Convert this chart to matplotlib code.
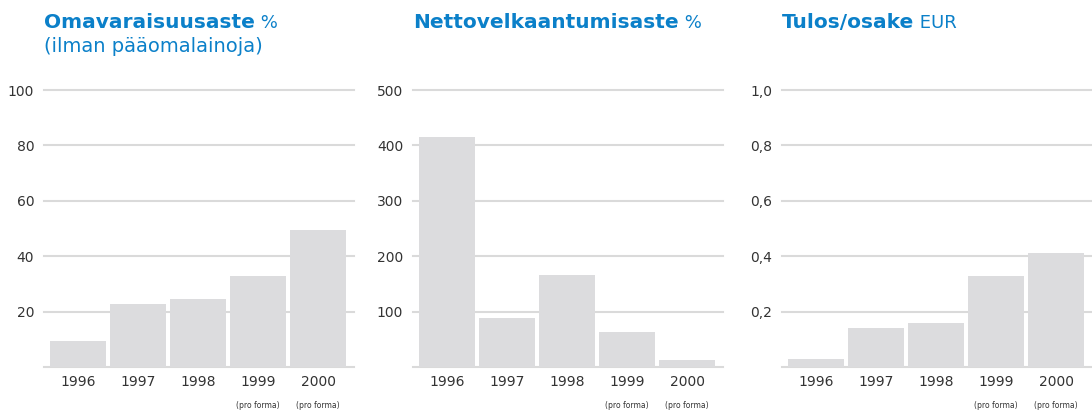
import matplotlib
matplotlib.use("Agg")
import matplotlib.pyplot as plt
import matplotlib.transforms as mtransforms
import numpy as np

years = ["1996", "1997", "1998", "1999", "2000"]
notes = ["", "", "", "(pro forma)", "(pro forma)"]

equity_ratio = [9.3, 22.8, 24.6, 33.0, 49.3]
gearing = [415, 89, 166, 63, 12]
eps = [0.029, 0.142, 0.159, 0.329, 0.41]

titles = ["Omavaraisuusaste", "Nettovelkaantumisaste", "Tulos/osake"]
units = ["%", "%", "EUR"]
subtitles = ["(ilman pääomalainoja)", "", ""]

ticks1 = [20, 40, 60, 80, 100]
ticks2 = [100, 200, 300, 400, 500]
ticks3 = [0.2, 0.4, 0.6, 0.8, 1.0]
tick_labels3 = ["0,2", "0,4", "0,6", "0,8", "1,0"]

BLUE = "#0b80c9"
BAR = "#dcdcde"
GRID = "#dadada"
TEXT = "#333333"

plt.rcParams['font.family'] = ['DejaVu Sans']

W, H = 1092, 412
fig = plt.figure(figsize=(W / 100, H / 100), dpi=100)

panels = [
    (equity_ratio, ticks1, [str(t) for t in ticks1], 100),
    (gearing, ticks2, [str(t) for t in ticks2], 500),
    (eps, ticks3, tick_labels3, 1.0),
]

for i, (vals, ticks, tlabels, ymax) in enumerate(panels):
    left = 44 + 369 * i
    ax = fig.add_axes([left / W, (H - 367) / H, 310 / W, 277 / H])
    x = np.arange(len(years))
    ax.bar(x, vals, width=0.933, color=BAR, zorder=2)
    ax.set_xlim(-0.567, 4.6)
    ax.set_ylim(0, ymax)
    for t in [0] + ticks:
        ax.axhline(t, color=GRID, lw=1.5, zorder=1, clip_on=False)
    for s in ax.spines.values():
        s.set_visible(False)
    ax.set_yticks(ticks)
    ax.set_yticklabels(tlabels, fontsize=10, color=TEXT)
    ax.set_xticks(x)
    ax.set_xticklabels(years, fontsize=10, color=TEXT)
    ax.tick_params(axis='y', length=0, pad=7)
    ax.tick_params(axis='x', length=0, pad=6)
    trans = mtransforms.blended_transform_factory(ax.transData, ax.transAxes)
    for xi, n in zip(x, notes):
        if n:
            ax.text(xi, -0.138, n, transform=trans, ha='center', va='center',
                    fontsize=5.5, color=TEXT)

    # titles, y in figure pixels
    ttrans = mtransforms.blended_transform_factory(ax.transAxes, fig.transFigure)
    ttl = ax.text(0, (H - 28) / H, titles[i], transform=ttrans, ha='left',
                  va='baseline', fontsize=14.5, fontweight='heavy', color=BLUE)
    ax.annotate(" " + units[i], xycoords=ttl, xy=(1, 0), va='bottom',
                fontsize=13, color=BLUE)
    if subtitles[i]:
        ax.text(0, (H - 52) / H, subtitles[i], transform=ttrans, ha='left',
                va='baseline', fontsize=14, color=BLUE)

fig.savefig("out.png", dpi=100)
